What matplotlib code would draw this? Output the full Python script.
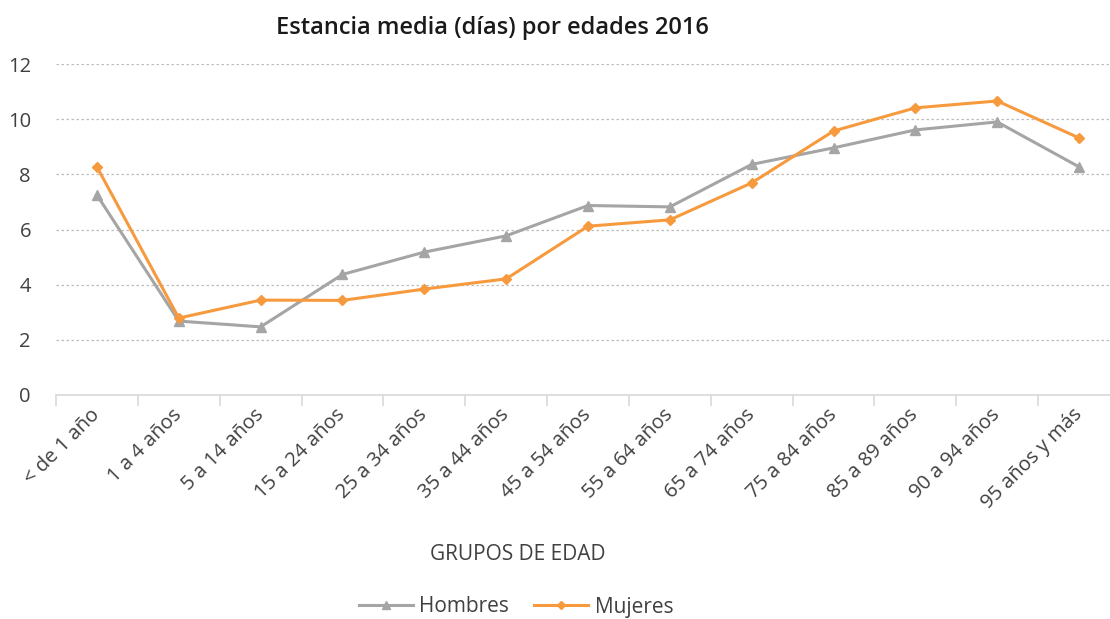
import numpy as np
import matplotlib.pyplot as plt

# datos
grupos = ['< de 1 año', '1 a 4 años', '5 a 14 años', '15 a 24 años', '25 a 34 años',
          '35 a 44 años', '45 a 54 años', '55 a 64 años', '65 a 74 años', '75 a 84 años',
          '85 a 89 años', '90 a 94 años', '95 años y más']
hombres = [7.25, 2.68, 2.47, 4.37, 5.18, 5.77, 6.87, 6.82, 8.36, 8.96, 9.61, 9.90, 8.27]
mujeres = [8.27, 2.79, 3.44, 3.43, 3.84, 4.21, 6.12, 6.35, 7.69, 9.57, 10.41, 10.66, 9.32]

plt.rcParams['font.family'] = ['Open Sans', 'DejaVu Sans']

fig = plt.figure(figsize=(11.1, 6.19), dpi=100)
ax = fig.add_axes([56 / 1110, 1 - 395 / 619, 1064 / 1110, 331 / 619])

x = np.arange(len(grupos))
ax.plot(x, hombres, color='#a5a5a5', lw=2.2, marker='^', ms=7, label='Hombres')
ax.plot(x, mujeres, color='#f79a3e', lw=2.2, marker='D', ms=5, label='Mujeres')

ax.set_xlim(-0.5, len(grupos) - 0.5)
ax.set_ylim(0, 12)
ax.set_yticks(range(0, 13, 2))
ax.yaxis.grid(True, ls=(0, (2, 2)), color='#bdbdbd', lw=0.9)
ax.set_axisbelow(True)
for s in ['top', 'right', 'left']:
    ax.spines[s].set_visible(False)
ax.spines['bottom'].set_color('#d9d9d9')
ax.spines['bottom'].set_linewidth(1.2)
ax.tick_params(axis='y', length=0, labelsize=14.5, colors='#404040', pad=18)

# ticks en los bordes de categoria
ax.set_xticks(np.arange(-0.5, len(grupos)), minor=False)
ax.set_xticklabels([])
ax.tick_params(axis='x', which='major', length=8, color='#d9d9d9', width=1.2)
ax.set_xticks(x, minor=True)
ax.set_xticklabels(grupos, minor=True, rotation=45, ha='right', va='center',
                   rotation_mode='anchor', fontsize=14.5, color='#404040')
ax.tick_params(axis='x', which='minor', length=0, pad=12)

fig.text(492 / 1110, 1 - 28 / 619, 'Estancia media (días) por edades 2016',
         ha='center', va='center', fontsize=17, fontweight='semibold', color='#1a1a1a')
fig.text(518 / 1110, 1 - 555 / 619, 'GRUPOS DE EDAD', ha='center', va='center',
         fontsize=15, color='#404040')

fig.legend(loc='center', bbox_to_anchor=(516 / 1110, 1 - 607 / 619), ncol=2, frameon=False,
           fontsize=15, handlelength=2.6, handletextpad=0.3, columnspacing=1.2,
           labelcolor='#404040', markerscale=0.8)

fig.savefig('out.png', dpi=100)
